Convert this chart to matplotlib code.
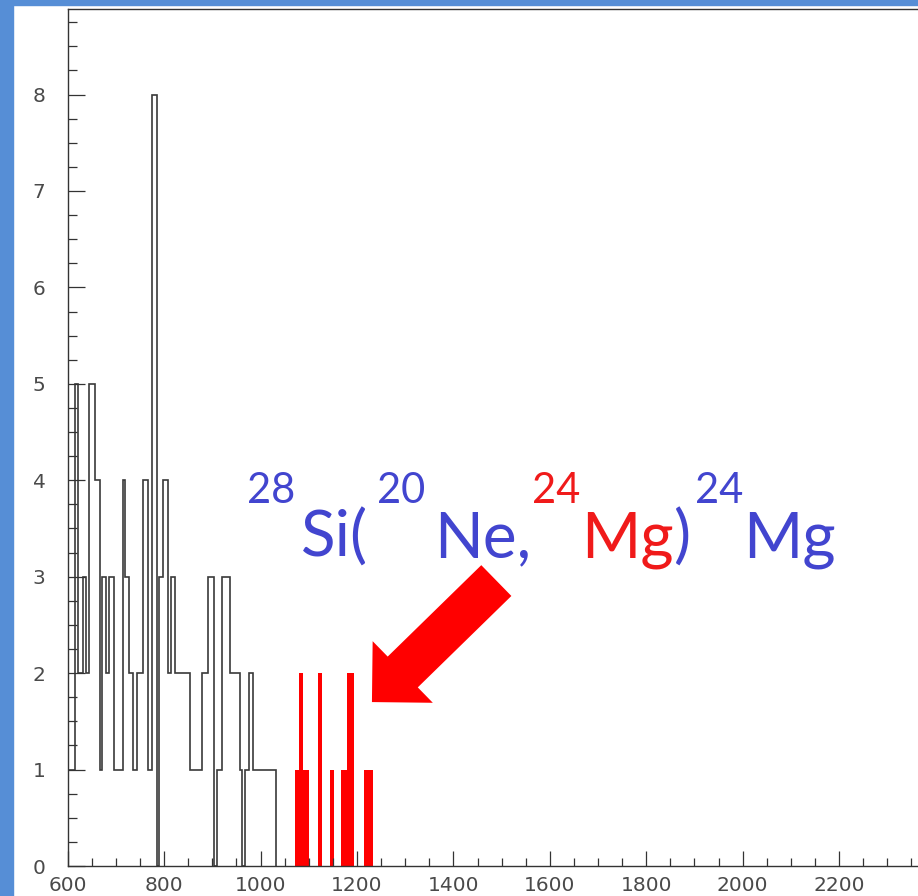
import matplotlib
matplotlib.use("Agg")
import matplotlib.pyplot as plt
from matplotlib.patches import Rectangle
from matplotlib.ticker import MultipleLocator
from matplotlib.transforms import IdentityTransform

# --- black spectrum: bin edges and counts ---
black_edges = [600, 615, 622, 631, 638, 645, 657, 666, 672, 680,
               686, 695, 714, 719, 727, 736, 743, 757, 766, 775,
               785, 790, 798, 808, 815, 822, 854, 878, 892, 904,
               910, 920, 937, 957, 962, 968, 977, 985, 1031]
black_counts = [1, 5, 2, 3, 2, 5, 4, 1, 3, 2,
                3, 1, 4, 3, 2, 1, 2, 4, 1, 8,
                0, 3, 4, 2, 3, 2, 1, 2, 3, 0,
                1, 3, 2, 1, 0, 1, 2, 1]

# --- highlighted (red) events ---
red_edges = [1071, 1080, 1089, 1100, 1120, 1127, 1143, 1153, 1167, 1180, 1193, 1215, 1233]
red_counts = [1, 2, 1, 0, 2, 0, 1, 0, 1, 2, 0, 1]

# --- reaction label pieces ---
BLUE = '#4245CF'
RED = '#F01A1A'
label_parts = ['28', 'Si(', '20', 'Ne,', '24', 'Mg', ')', '24', 'Mg']
label_sup = [True, False, True, False, True, False, False, True, False]
label_colors = [BLUE, BLUE, BLUE, BLUE, RED, RED, BLUE, BLUE, BLUE]
label_gaps = [0, 6, 9, 8, 1, 1, 0, 4, 0]   # px before each piece

W, H = 918, 896
fig = plt.figure(figsize=(W / 100, H / 100), dpi=100)

# slide background border
fig.patches.append(Rectangle((0, 0), 13 / W, 1, transform=fig.transFigure,
                             color='#568ED6', zorder=0))
fig.patches.append(Rectangle((0, 1 - 5 / H), 1, 5 / H, transform=fig.transFigure,
                             color='#568ED6', zorder=0))

px_x = 96.43 / 200.0      # pixels per x unit
px_y = 96.43              # pixels per count
x0, y0 = 67.7, H - 866
xmax = 2390
ax = fig.add_axes([x0 / W, y0 / H, (xmax - 600) * px_x / W, (866 - 9.5) / H])
ax.set_xlim(600, xmax)
ax.set_ylim(0, (866 - 9.5) / px_y)

ax.stairs(black_counts, black_edges, color='#3a3a3a', lw=1.2)
ax.stairs(red_counts, red_edges, fill=True, color='#FF0000', lw=0)

# axes style (ROOT-like)
ax.spines['right'].set_visible(False)
for s in ['left', 'bottom', 'top']:
    ax.spines[s].set_color('#333333')
    ax.spines[s].set_linewidth(1.0)
ax.xaxis.set_major_locator(MultipleLocator(200))
ax.xaxis.set_minor_locator(MultipleLocator(50))
ax.yaxis.set_major_locator(MultipleLocator(1))
ax.yaxis.set_minor_locator(MultipleLocator(0.25))
ax.tick_params(axis='x', which='major', direction='in', length=11, width=0.9,
               pad=7.5, colors='#333333', labelsize=14.5)
ax.tick_params(axis='x', which='minor', direction='in', length=6, width=0.9, colors='#333333')
ax.tick_params(axis='y', which='major', direction='in', length=12, width=0.9,
               pad=16, colors='#333333', labelsize=14.5)
ax.tick_params(axis='y', which='minor', direction='in', length=6.5, width=0.9, colors='#333333')
for lab in ax.get_xticklabels() + ax.get_yticklabels():
    lab.set_fontfamily('DejaVu Sans')
    lab.set_color('#4a4a4a')

# arrow pointing at the red events
ax.annotate('', xy=(1231, 1.70), xytext=(1489, 2.96),
            arrowprops=dict(arrowstyle='simple,head_length=1.0,head_width=2.0,tail_width=1.0',
                            mutation_scale=31, color='#FF0000', lw=0,
                            shrinkA=0, shrinkB=0))

# reaction label, laid out piece by piece
renderer = fig.canvas.get_renderer()
x = 247
base = H - 557
sup_base = H - 503
for part, sup, col, gap in zip(label_parts, label_sup, label_colors, label_gaps):
    x += gap
    t = fig.text(x, sup_base if sup else base, part, transform=IdentityTransform(),
                 fontsize=30 if sup else 46, family=['Lato', 'DejaVu Sans'],
                 color=col, ha='left', va='baseline')
    x = t.get_window_extent(renderer).x1

fig.savefig('out.png', dpi=100)
